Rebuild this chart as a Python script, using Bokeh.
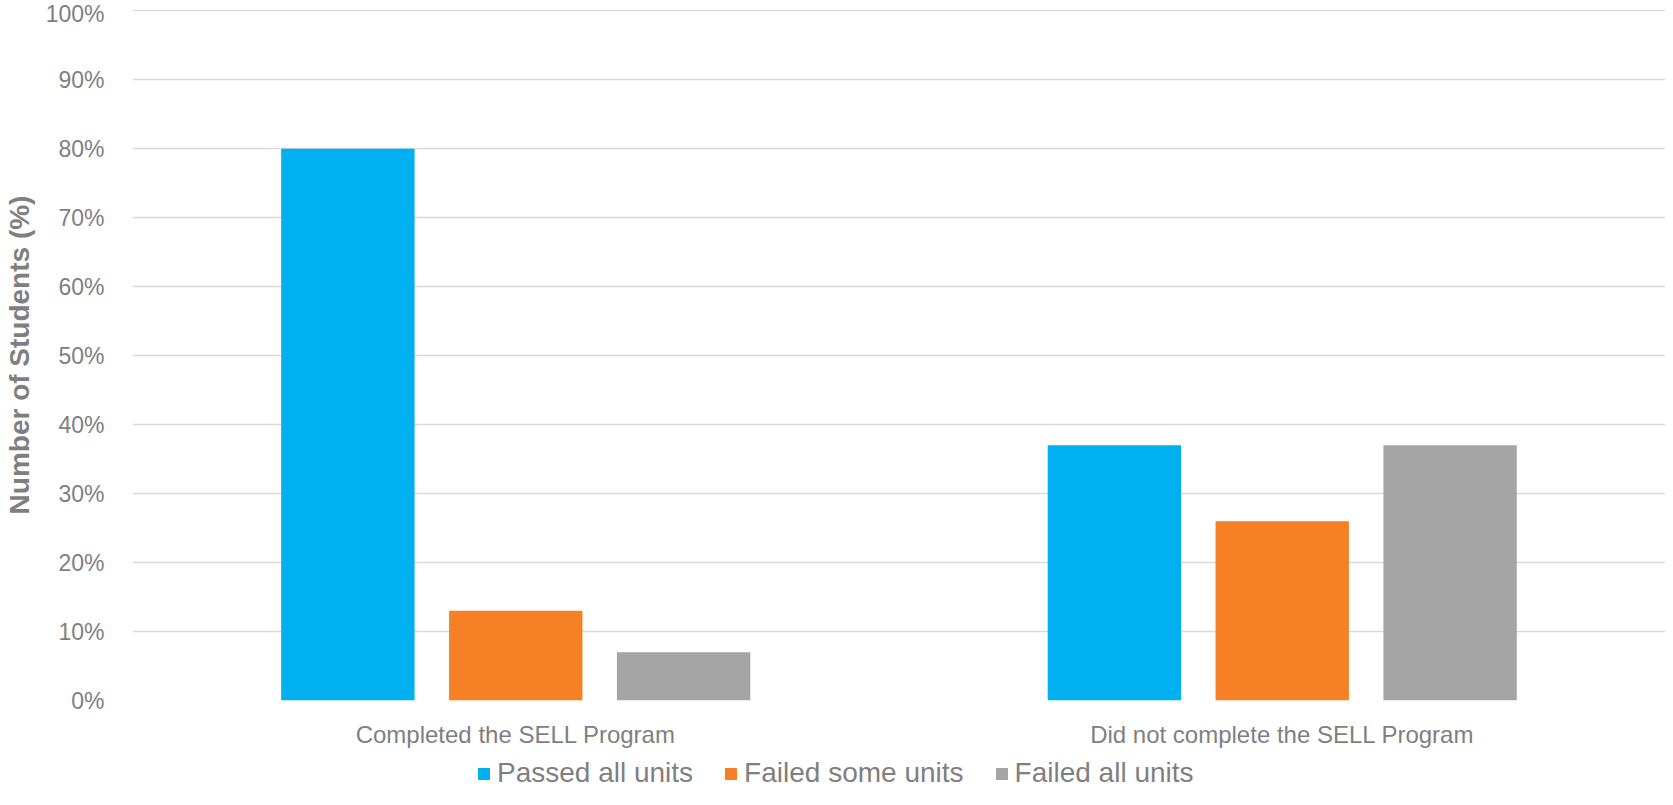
from bokeh.plotting import figure
from bokeh.models import ColumnDataSource, FactorRange, Range1d, FixedTicker, PrintfTickFormatter, Legend, LegendItem
from bokeh.transform import dodge
from bokeh.layouts import column
from bokeh.embed import file_html
from bokeh.resources import INLINE

categories = ["Completed the SELL Program", "Did not complete the SELL Program"]
series_names = ["Passed all units", "Failed some units", "Failed all units"]
passed_all = [80, 37]
failed_some = [13, 26]
failed_all = [7, 37]
y_ticks = [0, 10, 20, 30, 40, 50, 60, 70, 80, 90, 100]

colors = ["#00B0F0", "#F58025", "#A5A5A5"]
TXT = "#7F7F7F"
FONT = "Liberation Sans"

source = ColumnDataSource(data=dict(cat=categories, passed=passed_all, some=failed_some, all_=failed_all))

p = figure(width=1665, height=752, output_backend="svg", toolbar_location=None,
           x_range=FactorRange(factors=categories, range_padding=0),
           y_range=Range1d(0, 100.2),
           min_border_left=122, min_border_right=0, min_border_top=9, min_border_bottom=52)

offsets = [-0.219, 0.0, 0.219]
fields = ["passed", "some", "all_"]
for f, off, c in zip(fields, offsets, colors):
    p.vbar(x=dodge("cat", off, range=p.x_range), top=f, width=0.174, bottom=0,
           source=source, fill_color=c, line_color=None)

p.outline_line_color = None
p.xgrid.grid_line_color = None
p.ygrid.grid_line_color = "#D9D9D9"
p.ygrid.grid_line_width = 1.5
p.ygrid.ticker = FixedTicker(ticks=y_ticks)

p.yaxis.ticker = FixedTicker(ticks=y_ticks)
p.yaxis.formatter = PrintfTickFormatter(format="%d%%")
p.yaxis.axis_line_color = None
p.yaxis.major_tick_line_color = None
p.yaxis.minor_tick_line_color = None
p.yaxis.major_label_text_font = FONT
p.yaxis.major_label_text_font_size = "23px"
p.yaxis.major_label_text_color = TXT
p.yaxis.major_label_standoff = 22
p.yaxis.axis_label = "Number of Students (%)"
p.yaxis.axis_label_text_font = FONT
p.yaxis.axis_label_text_font_size = "28px"
p.yaxis.axis_label_text_font_style = "bold"
p.yaxis.axis_label_text_color = TXT
p.yaxis.axis_label_standoff = 8

p.xaxis.axis_line_color = None
p.xaxis.major_tick_line_color = None
p.xaxis.minor_tick_line_color = None
p.xaxis.major_label_text_font = FONT
p.xaxis.major_label_text_font_size = "24px"
p.xaxis.major_label_text_color = TXT
p.xaxis.major_label_standoff = 14

# legend strip below the chart (hidden renderers provide the swatches)
p2 = figure(width=1665, height=37, output_backend="svg", toolbar_location=None,
            x_range=Range1d(0, 1), y_range=Range1d(0, 1),
            min_border_left=0, min_border_right=0, min_border_top=0, min_border_bottom=0)
p2.axis.visible = False
p2.grid.visible = False
p2.outline_line_color = None
swatches = []
for f, c in zip(fields, colors):
    swatches.append(p2.vbar(x=f, top=f, width=0.1, source=source, fill_color=c,
                            line_color=None, visible=False))

legend = Legend(items=[LegendItem(label=n, renderers=[r]) for n, r in zip(series_names, swatches)],
                orientation="horizontal", location=(344, 0),
                glyph_width=15, glyph_height=15, label_standoff=6, spacing=30,
                padding=0, margin=0, border_line_color=None, background_fill_alpha=0,
                inactive_fill_alpha=0,
                label_text_font=FONT, label_text_font_size="28px", label_text_color=TXT)
p2.add_layout(legend, "center")

layout = column(p, p2, spacing=0)
open("out.html", "w").write(file_html(layout, INLINE))
